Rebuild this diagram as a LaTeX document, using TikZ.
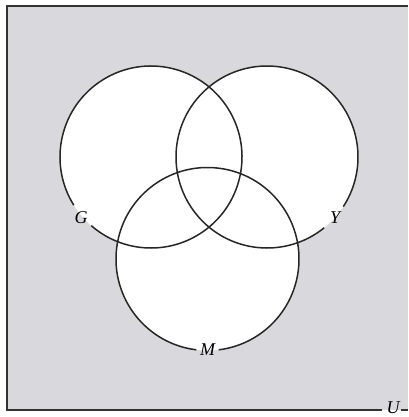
\documentclass[tikz,border=0pt]{standalone}
\usepackage{fontspec}
\setmainfont{Liberation Serif}
\definecolor{bggray}{RGB}{217,217,221}
\tikzset{
  circ/.style={draw=black!85, line width=1.5pt},
  frame/.style={draw=black!80, line width=1.6pt},
  lbl/.style={font=\fontsize{18}{20}\selectfont\itshape, inner sep=0pt}
}
\begin{document}
\begin{tikzpicture}[x=1pt,y=-1pt]
\useasboundingbox (0,0) rectangle (408,417);
\fill[white] (0,0) rectangle (408,417);
\fill[bggray] (7,6) rectangle (408,410);
\coordinate (cG) at (151,157);
\coordinate (cY) at (267,157);
\coordinate (cM) at (207.5,259);
\fill[white] (cG) circle (91) (cY) circle (91) (cM) circle (91.5);
% circles with gaps at labels
\draw[circ] ([shift={(148:91)}]cG) arc[start angle=148, end angle=491, radius=91];
\draw[circ] ([shift={(51:91)}]cY) arc[start angle=51, end angle=393, radius=91];
\draw[circ] ([shift={(97:91.5)}]cM) arc[start angle=97, end angle=443, radius=91.5];
\node[lbl] (G) at (81,218) {G};
\node[lbl] (Y) at (335,218) {Y};
\node[lbl] (M) at (207.5,350) {M};
% frame
\draw[frame] (408,6) -- (7,6) -- (7,410) -- (382,410);
\node[lbl] (U) at (393,408) {U};
\draw[frame] (U.east) ++(1,2) -- (408,410);
\end{tikzpicture}
\end{document}
